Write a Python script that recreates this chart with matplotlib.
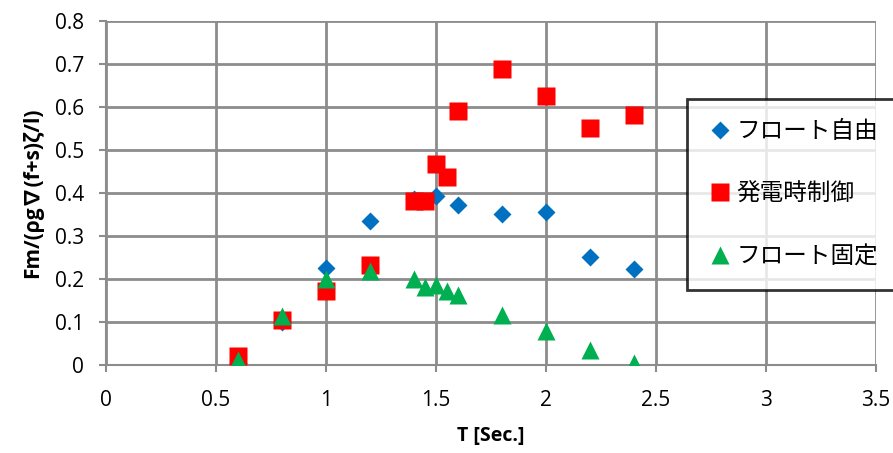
import matplotlib.pyplot as plt

plt.rcParams["font.family"] = ["Open Sans", "Noto Sans CJK JP", "DejaVu Sans"]

# T [Sec.] for each series
t_free = [0.6, 0.8, 1.0, 1.2, 1.4, 1.5, 1.6, 1.8, 2.0, 2.2, 2.4]
fm_free = [0.005, 0.10, 0.225, 0.334, 0.385, 0.393, 0.372, 0.351, 0.355, 0.252, 0.223]

t_ctrl = [0.6, 0.8, 1.0, 1.2, 1.4, 1.45, 1.5, 1.55, 1.6, 1.8, 2.0, 2.2, 2.4]
fm_ctrl = [0.021, 0.104, 0.171, 0.232, 0.381, 0.381, 0.468, 0.437, 0.590, 0.688, 0.625, 0.551, 0.581]

t_fixed = [0.6, 0.8, 1.0, 1.2, 1.4, 1.45, 1.5, 1.55, 1.6, 1.8, 2.0, 2.2, 2.4]
fm_fixed = [0.012, 0.115, 0.200, 0.218, 0.200, 0.182, 0.187, 0.173, 0.163, 0.116, 0.079, 0.035, 0.004]

labels = ["フロート自由", "発電時制御", "フロート固定"]
xticks = [0, 0.5, 1, 1.5, 2, 2.5, 3, 3.5]
yticks = [0, 0.1, 0.2, 0.3, 0.4, 0.5, 0.6, 0.7, 0.8]

fig = plt.figure(figsize=(8.93, 4.53), dpi=100)
ax = fig.add_axes([106 / 893, 1 - 365 / 453, 770 / 893, 344 / 453])

grid_c = "#8c8c8c"
ax.plot(t_free, fm_free, "D", color="#0070C0", ms=9.2, mec="none", label=labels[0], zorder=3)
ax.plot(t_ctrl, fm_ctrl, "s", color="#FF0000", ms=13.5, mec="none", label=labels[1], zorder=4)
ax.plot(t_fixed, fm_fixed, "^", color="#00B050", ms=13.5, mec="none", label=labels[2], zorder=5)

ax.set_xlim(0, 3.5)
ax.set_ylim(0, 0.8)
ax.set_xticks(xticks)
ax.set_xticklabels([f"{v:g}" for v in xticks])
ax.set_yticks(yticks)
ax.set_yticklabels([f"{v:g}" for v in yticks])
ax.grid(True, color=grid_c, lw=2)
ax.set_axisbelow(True)
for s in ["top", "right"]:
    ax.spines[s].set_visible(False)
for s in ["left", "bottom"]:
    ax.spines[s].set_color(grid_c)
    ax.spines[s].set_linewidth(1.5)
ax.tick_params(colors=grid_c, width=1.5, length=5, labelsize=15, labelcolor="black")
ax.tick_params(axis="x", pad=13)
ax.tick_params(axis="y", pad=11)

ax.set_xlabel("T [Sec.]", fontsize=14, fontweight="bold", labelpad=11)
ax.set_ylabel("Fm/(ρg∇(f+s)ζ/l)", fontsize=15, fontweight="bold", labelpad=8)

# legend box runs off the right edge, as in the original
leg = fig.legend(
    loc="upper left",
    bbox_to_anchor=(687 / 893, 1 - 99 / 453, 230 / 893, 0.0),
    mode="expand",
    fontsize=17,
    frameon=True,
    fancybox=False,
    labelspacing=1.63,
    borderpad=0.9,
    handletextpad=0.2,
    handlelength=1.0,
    borderaxespad=0,
)
leg.get_frame().set_edgecolor("black")
leg.get_frame().set_linewidth(2)
leg.set_zorder(10)

fig.savefig("out.png", dpi=100)
